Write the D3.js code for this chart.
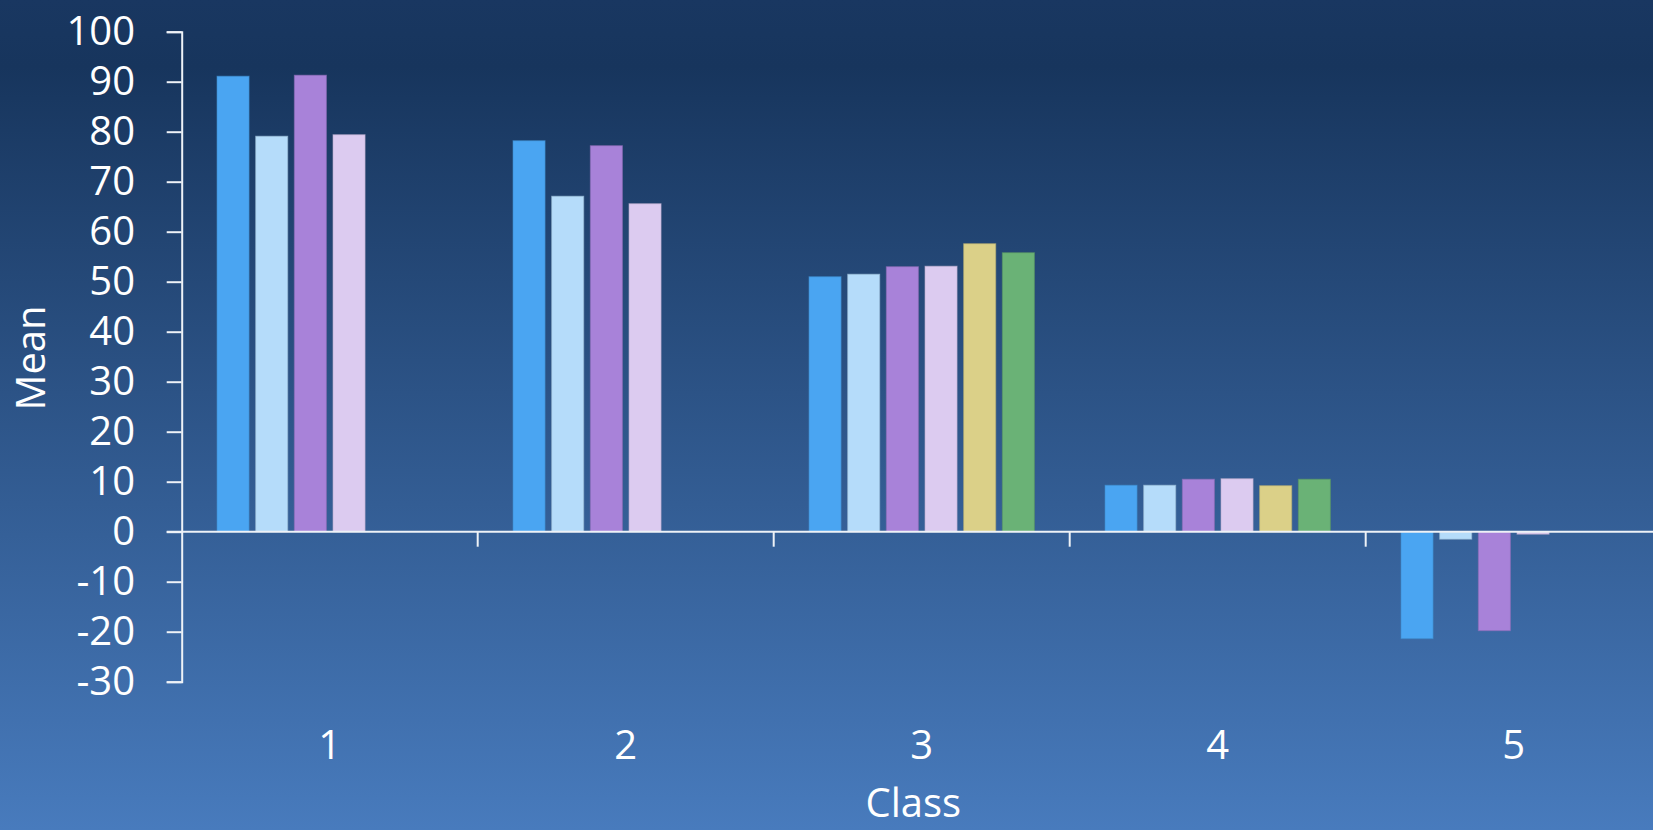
<!DOCTYPE html>
<html>
<head>
<meta charset="utf-8">
<script src="https://cdn.jsdelivr.net/npm/d3@7"></script>
<style>
  html, body { margin: 0; padding: 0; overflow: hidden; }
  svg { display: block; font-family: "Open Sans", sans-serif; }
</style>
</head>
<body>
<svg id="chart"></svg>
<script>
// chart data
const classes = ["1", "2", "3", "4", "5"];
const seriesNames = ["S1", "S2", "S3", "S4", "S5", "S6"];
const s1 = [91.1, 78.2, 51.0, 9.3, -21.4];
const s2 = [79.1, 67.1, 51.5, 9.3, -1.5];
const s3 = [91.3, 77.2, 53.0, 10.5, -19.8];
const s4 = [79.4, 65.6, 53.1, 10.6, -0.5];
const s5 = [null, null, 57.6, 9.2, null];
const s6 = [null, null, 55.8, 10.5, null];
const yTicks = [100, 90, 80, 70, 60, 50, 40, 30, 20, 10, 0, -10, -20, -30];
const colors = ["#4aa5f2", "#b5dcfa", "#a882d9", "#dccbf0", "#dbd088", "#6ab276"];

const width = 1653, height = 830;
const plotLeft = 181.7, plotTop = 31.7, plotBottom = 681.7;
const step = 296;

const svg = d3.select("#chart").attr("width", width).attr("height", height);

// background gradient
const grad = svg.append("defs").append("linearGradient")
  .attr("id", "bg").attr("x1", 0).attr("y1", 0).attr("x2", 0).attr("y2", 1);
grad.append("stop").attr("offset", "0%").attr("stop-color", "#193761");
grad.append("stop").attr("offset", "8%").attr("stop-color", "#17355d");
grad.append("stop").attr("offset", "100%").attr("stop-color", "#487bbd");
svg.append("rect").attr("width", width).attr("height", height).attr("fill", "url(#bg)");

// scales
const x0 = d3.scaleBand().domain(classes).range([plotLeft, plotLeft + step * classes.length]).padding(0);
const x1 = d3.scaleBand().domain(seriesNames).range([32, step - 32])
  .paddingInner(0.17).paddingOuter(0.085);
const y = d3.scaleLinear().domain([-30, 100]).range([plotBottom, plotTop]);

const table = [];
const allSeries = [s1, s2, s3, s4, s5, s6];
classes.forEach((c, i) => {
  allSeries.forEach((s, j) => {
    if (s[i] !== null) table.push({ cls: c, series: seriesNames[j], value: s[i], color: colors[j] });
  });
});

// bars
svg.append("g").selectAll("rect")
  .data(table)
  .enter()
  .append("rect")
  .attr("x", d => x0(d.cls) + x1(d.series))
  .attr("y", d => y(Math.max(0, d.value)))
  .attr("width", x1.bandwidth())
  .attr("height", d => Math.abs(y(d.value) - y(0)))
  .attr("fill", d => d.color)
  .attr("stroke", d => d3.color(d.color).darker(0.5))
  .attr("stroke-opacity", 0.6)
  .attr("stroke-width", 1);

// y axis
const yAxis = svg.append("g")
  .attr("transform", `translate(${plotLeft},0)`)
  .call(d3.axisLeft(y).tickValues(yTicks).tickFormat(d => String(d)).tickSize(15).tickPadding(31.7));
yAxis.select(".domain").attr("stroke", "#eef2f7").attr("stroke-width", 2);
yAxis.selectAll(".tick line").attr("stroke", "#eef2f7").attr("stroke-width", 2);
yAxis.selectAll(".tick text").attr("fill", "#ffffff").style("font-size", "40px")
  .style("font-family", "'Open Sans', sans-serif");

// zero line with category boundary ticks
svg.append("line")
  .attr("x1", plotLeft - 15).attr("x2", width)
  .attr("y1", y(0)).attr("y2", y(0))
  .attr("stroke", "#eef2f7").attr("stroke-width", 2);
svg.append("g").selectAll("line")
  .data(classes.slice(1))
  .enter()
  .append("line")
  .attr("x1", d => x0(d)).attr("x2", d => x0(d))
  .attr("y1", y(0)).attr("y2", y(0) + 15)
  .attr("stroke", "#eef2f7").attr("stroke-width", 2);

// category labels
const xAxis = svg.append("g")
  .attr("transform", `translate(0,${plotBottom})`)
  .call(d3.axisBottom(x0).tickSize(0).tickPadding(49));
xAxis.select(".domain").remove();
xAxis.selectAll(".tick text").attr("fill", "#ffffff").style("font-size", "40px")
  .style("font-family", "'Open Sans', sans-serif");

// axis titles
svg.append("text")
  .attr("x", (plotLeft + width) / 2 - 4)
  .attr("y", 817)
  .attr("text-anchor", "middle")
  .attr("fill", "#ffffff")
  .style("font-size", "40px")
  .text("Class");

svg.append("text")
  .attr("transform", "translate(45,358) rotate(-90)")
  .attr("text-anchor", "middle")
  .attr("fill", "#ffffff")
  .style("font-size", "40px")
  .text("Mean");
</script>
</body>
</html>
